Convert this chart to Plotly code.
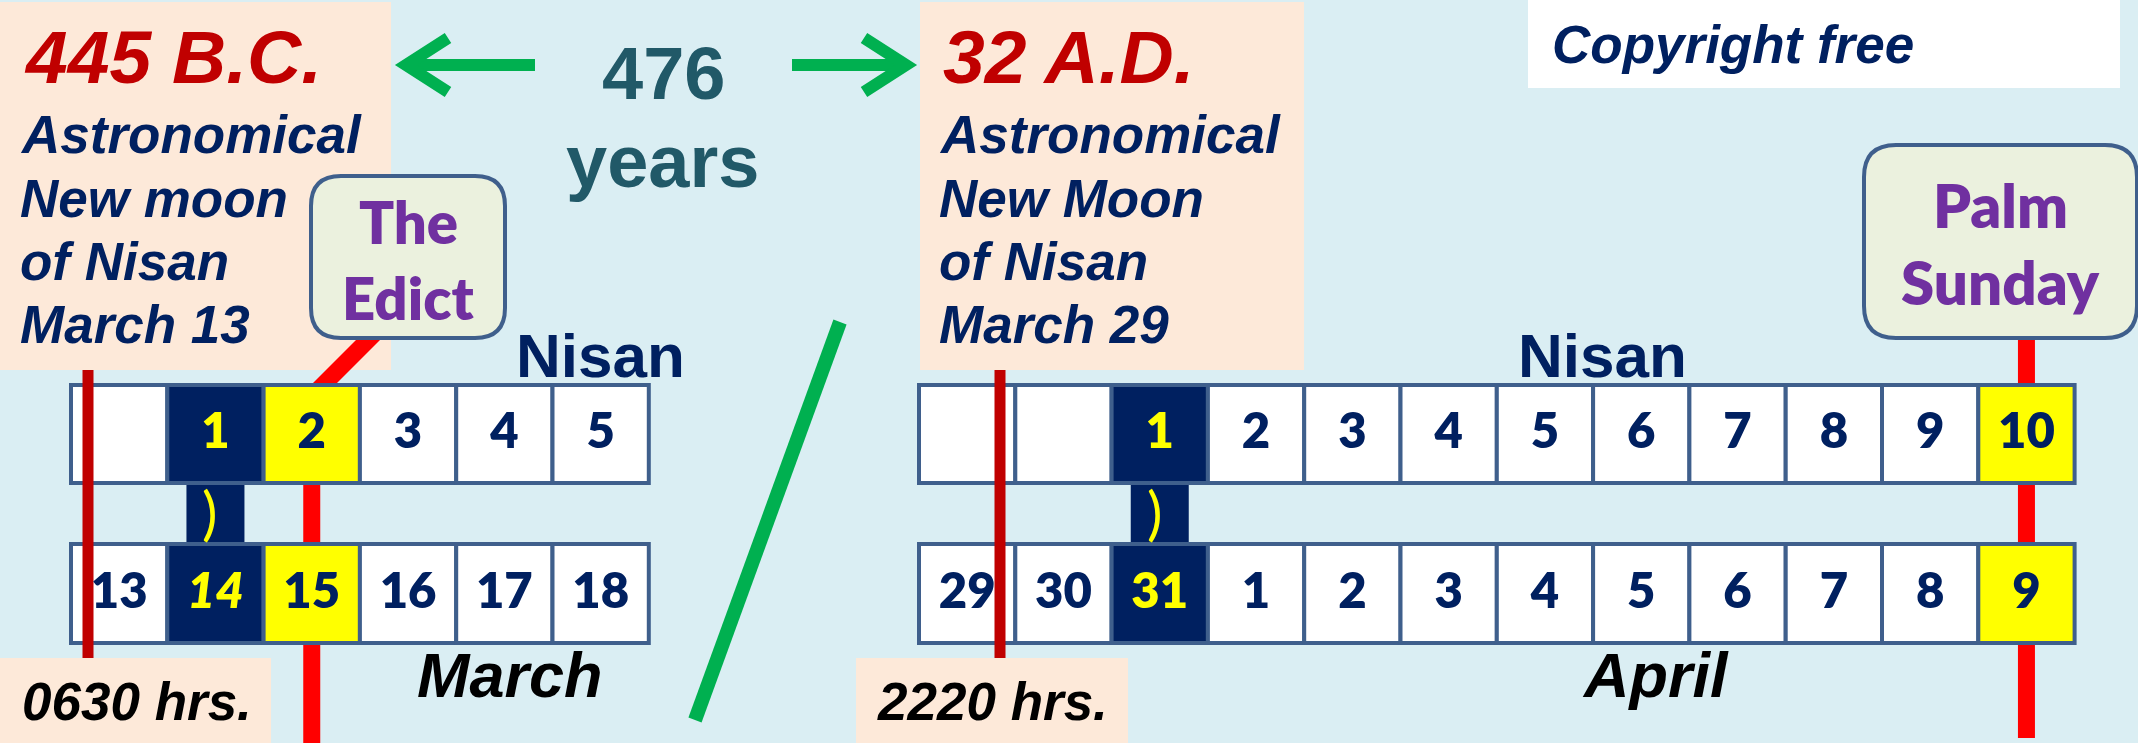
import plotly.graph_objects as go

# ---------------- data ----------------
left_nisan_days = ["", "1", "2", "3", "4", "5"]
left_march_days = ["13", "14", "15", "16", "17", "18"]
right_nisan_days = ["", "", "1", "2", "3", "4", "5", "6", "7", "8", "9", "10"]
right_civil_days = ["29", "30", "31", "1", "2", "3", "4", "5", "6", "7", "8", "9"]

left_new_moon_col = 1      # Nisan 1 / March 14
left_event_col = 2         # Nisan 2 / March 15 (The Edict)
right_new_moon_col = 2     # Nisan 1 / March 31
right_event_col = 11       # Nisan 10 / April 9 (Palm Sunday)

left_title = "445 B.C."
right_title = "32 A.D."
left_lines = ["Astronomical", "New moon", "of Nisan", "March 13"]
right_lines = ["Astronomical", "New Moon", "of Nisan", "March 29"]
left_time = "0630 hrs."
right_time = "2220 hrs."
span_label = ["476", "years"]
month_labels = ["March", "April"]
calendar_label = "Nisan"
left_event = ["The", "Edict"]
right_event = ["Palm", "Sunday"]
moon_symbol = ")"
copyright_text = "Copyright free"

# ---------------- styles / geometry ----------------
W_PX, H_PX = 2138, 743
BG = "#DAEEF3"
PEACH = "#FDE9D9"
NAVY = "#002060"
DARKRED = "#C00000"
RED = "#FF0000"
GREEN = "#00B050"
TEAL = "#215968"
PURPLE = "#7030A0"
BOXFILL = "#EBF1DE"
BORDER = "#3F5F8C"
YELLOW = "#FFFF00"
ARIAL = "Liberation Sans, Arial, sans-serif"
CALIBRI = "Lato, Carlito, Calibri, sans-serif"

CW = 96.3
LEFT_X0, RIGHT_X0 = 71, 919
TOP_ROW = (385, 483)
BOT_ROW = (544, 643)

shapes = []


def rect(x0, y0, x1, y1, fill, line_color=None, lw=0):
    shapes.append(dict(type="rect", xref="x", yref="y", x0=x0, y0=y0, x1=x1, y1=y1,
                       fillcolor=fill, line=dict(color=line_color or fill, width=lw),
                       layer="below"))


def seg(x0, y0, x1, y1, color, lw):
    shapes.append(dict(type="line", xref="x", yref="y", x0=x0, y0=y0, x1=x1, y1=y1,
                       line=dict(color=color, width=lw), layer="below"))


def path(d, color, lw, fill=None):
    s = dict(type="path", xref="x", yref="y", path=d, line=dict(color=color, width=lw), layer="below")
    if fill:
        s["fillcolor"] = fill
    shapes.append(s)


def rounded(x0, y0, x1, y1, r):
    return (f"M {x0+r},{y0} L {x1-r},{y0} Q {x1},{y0} {x1},{y0+r} L {x1},{y1-r} "
            f"Q {x1},{y1} {x1-r},{y1} L {x0+r},{y1} Q {x0},{y1} {x0},{y1-r} "
            f"L {x0},{y0+r} Q {x0},{y0} {x0+r},{y0} Z")


def cx(x0, i):
    return x0 + (i + 0.5) * CW


# background boxes
rect(0, 2, 391, 370, PEACH)
rect(920, 2, 1304, 370, PEACH)
rect(0, 658, 271, 743, PEACH)
rect(856, 658, 1128, 743, PEACH)
rect(1528, 0, 2120, 88, "white")

# bright red event lines (under the cells)
ex_l = cx(LEFT_X0, left_event_col)
ex_r = cx(RIGHT_X0, right_event_col)
seg(ex_l, 390, ex_l, 743, RED, 17)
seg(386, 322, 300, 408, RED, 17)
seg(ex_r, 320, ex_r, 738, RED, 17)

# green arrows and separator
seg(535, 65, 412, 65, GREEN, 12)
path("M 448,38 L 406,65 L 448,92", GREEN, 12)
seg(792, 65, 900, 65, GREEN, 12)
path("M 864,38 L 906,65 L 864,92", GREEN, 12)
seg(840, 322, 695, 720, GREEN, 14)


# calendar rows
def draw_rows(x0, top, bottom, moon_col, event_col):
    n = len(top)
    mx = cx(x0, moon_col)
    rect(mx - 29, TOP_ROW[1], mx + 29, BOT_ROW[0], NAVY)
    for row, (y0, y1) in zip((top, bottom), (TOP_ROW, BOT_ROW)):
        for i in range(n):
            fill = "white"
            if i == moon_col:
                fill = NAVY
            elif i == event_col:
                fill = YELLOW
            rect(x0 + i * CW, y0, x0 + (i + 1) * CW, y1, fill, BORDER, 4)


draw_rows(LEFT_X0, left_nisan_days, left_march_days, left_new_moon_col, left_event_col)
draw_rows(RIGHT_X0, right_nisan_days, right_civil_days, right_new_moon_col, right_event_col)

# event boxes
path(rounded(311, 176, 505, 338, 30), BORDER, 4, BOXFILL)
path(rounded(1864, 145, 2137, 338, 32), BORDER, 4, BOXFILL)

# dark red new-moon time lines (over cells)
seg(88, 370, 88, 658, DARKRED, 11)
seg(1000, 370, 1000, 658, DARKRED, 11)

# ---------------- text ----------------
annotations = []


def txt(x, y, s, size, color, family=ARIAL, weight="bold", italic=False, xanchor="center"):
    annotations.append(dict(x=x, y=y, xref="x", yref="y", text=s, showarrow=False,
                            xanchor=xanchor, yanchor="middle",
                            font=dict(family=family, size=size, color=color,
                                      weight=weight,
                                      style="italic" if italic else "normal")))


txt(22, 57, left_title, 75, DARKRED, italic=True, xanchor="left")
txt(941, 57, right_title, 75, DARKRED, italic=True, xanchor="left")
line_y = [134, 198, 261, 324]
for y, a, b in zip(line_y, left_lines, right_lines):
    txt(18, y, a, 53, NAVY, italic=True, xanchor="left")
    txt(937, y, b, 53, NAVY, italic=True, xanchor="left")

txt(663, 73, span_label[0], 74, TEAL)
txt(662, 161, span_label[1], 74, TEAL)

txt(600, 355, calendar_label, 62, NAVY)
txt(1602, 355, calendar_label, 62, NAVY)

txt(510, 675, month_labels[0], 63, "black", italic=True)
txt(1655, 675, month_labels[1], 63, "black", italic=True)

txt(137, 701, left_time, 53, "black", italic=True)
txt(992, 701, right_time, 53, "black", italic=True)

txt(1550, 44, copyright_text, 53, NAVY, italic=True, xanchor="left")

txt(408, 221, left_event[0], 58, PURPLE, family=CALIBRI, weight=800)
txt(408, 297, left_event[1], 58, PURPLE, family=CALIBRI, weight=800)
txt(2000, 205, right_event[0], 60, PURPLE, family=CALIBRI, weight=800)
txt(2000, 282, right_event[1], 60, PURPLE, family=CALIBRI, weight=800)

# moon symbols in connectors
txt(cx(LEFT_X0, left_new_moon_col) - 5, 511, moon_symbol, 58, YELLOW, family=CALIBRI, weight="normal")
txt(cx(RIGHT_X0, right_new_moon_col) - 5, 511, moon_symbol, 58, YELLOW, family=CALIBRI, weight="normal")

# ---------------- digits as text traces ----------------
groups = {"navy": ([], [], []), "yellow": ([], [], []), "yellow_it": ([], [], [])}


def collect(x0, labels, yc, moon_col, italic_moon):
    for i, lab in enumerate(labels):
        if not lab:
            continue
        key = "navy"
        if i == moon_col:
            key = "yellow_it" if italic_moon else "yellow"
        xs, ys, ts = groups[key]
        xs.append(cx(x0, i))
        ys.append(yc)
        ts.append(lab)


ytop = (TOP_ROW[0] + TOP_ROW[1]) / 2 + 2
ybot = (BOT_ROW[0] + BOT_ROW[1]) / 2 + 2
collect(LEFT_X0, left_nisan_days, ytop, left_new_moon_col, False)
collect(LEFT_X0, left_march_days, ybot, left_new_moon_col, True)
collect(RIGHT_X0, right_nisan_days, ytop, right_new_moon_col, False)
collect(RIGHT_X0, right_civil_days, ybot, right_new_moon_col, False)

fig = go.Figure()
styles = {"navy": (NAVY, "normal"), "yellow": (YELLOW, "normal"), "yellow_it": (YELLOW, "italic")}
for key, (xs, ys, ts) in groups.items():
    col, sty = styles[key]
    fig.add_trace(go.Scatter(x=xs, y=ys, text=ts, mode="text", textposition="middle center",
                             textfont=dict(family=CALIBRI, size=49, color=col, weight=800, style=sty),
                             hoverinfo="skip", showlegend=False, cliponaxis=False))

fig.update_layout(
    width=W_PX, height=H_PX,
    margin=dict(l=0, r=0, t=0, b=0),
    paper_bgcolor=BG, plot_bgcolor=BG,
    xaxis=dict(range=[0, W_PX], visible=False, fixedrange=True),
    yaxis=dict(range=[H_PX, 0], visible=False, fixedrange=True),
    shapes=shapes,
    annotations=annotations,
    showlegend=False,
    hovermode=False,
)

fig.write_html("out.html", config={"displayModeBar": False},
               post_script="document.body.style.margin='0';document.body.style.overflow='hidden';")
